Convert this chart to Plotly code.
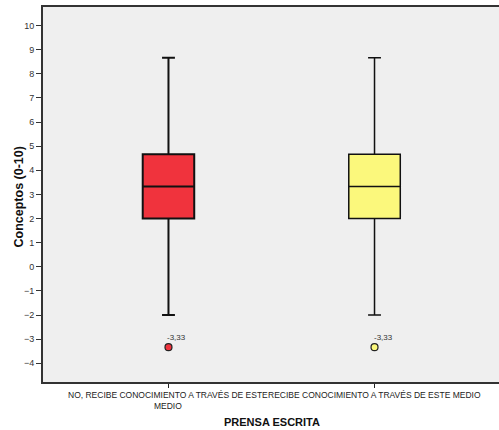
import plotly.graph_objects as go

categories = ["NO, RECIBE CONOCIMIENTO A TRAVÉS DE ESTE<br>MEDIO",
              "RECIBE CONOCIMIENTO A TRAVÉS DE ESTE MEDIO"]
q1 = [2.0, 2.0]
median = [3.33, 3.33]
q3 = [4.67, 4.67]
lower = [-2.0, -2.0]
upper = [8.67, 8.67]
outliers = [-3.33, -3.33]
outlier_labels = ["-3,33", "-3,33"]
colors = ["#F0333D", "#FBF87C"]
line_w = [2, 1.5]

FONT = "Liberation Sans, Arial"

fig = go.Figure()
for i in range(len(categories)):
    fig.add_trace(go.Box(
        x=[i], q1=[q1[i]], median=[median[i]], q3=[q3[i]],
        lowerfence=[lower[i]], upperfence=[upper[i]],
        fillcolor=colors[i], line=dict(color="#111111", width=line_w[i]),
        width=0.25, whiskerwidth=0.25, boxpoints=False, showlegend=False,
    ))
    fig.add_trace(go.Scatter(
        x=[i], y=[outliers[i]], mode="markers",
        marker=dict(size=7, color=colors[i], line=dict(color="#222222", width=1.2)),
        showlegend=False, cliponaxis=False,
    ))
    fig.add_annotation(
        x=i, y=outliers[i], text=outlier_labels[i], showarrow=False,
        xanchor="left", yanchor="bottom", xshift=-3, yshift=3,
        font=dict(size=8, color="#333333", family=FONT),
    )
    fig.add_annotation(
        x=i, y=0, xref="x", yref="paper", text=categories[i], showarrow=False,
        xanchor="center", yanchor="top", yshift=-6,
        font=dict(size=8.5, color="#222222", family=FONT),
    )

fig.add_annotation(
    x=0.5, y=0, xref="paper", yref="paper", text="<b>PRENSA ESCRITA</b>",
    showarrow=False, xanchor="center", yanchor="top", yshift=-32,
    font=dict(size=11, color="#111111", family=FONT),
)
fig.add_annotation(
    x=0, y=0.5, xref="paper", yref="paper", text="<b>Conceptos (0-10)</b>",
    showarrow=False, xanchor="center", yanchor="middle", xshift=-25, yshift=-3, textangle=-90,
    font=dict(size=12.5, color="#111111", family=FONT),
)

fig.update_layout(
    width=502, height=430,
    margin=dict(l=43, r=0, t=7, b=48),
    paper_bgcolor="white", plot_bgcolor="#EFEFEF",
    font=dict(family=FONT, color="#222222"),
    xaxis=dict(
        range=[-0.609, 1.609], tickmode="array", tickvals=[0, 1], showticklabels=False,
        ticks="outside", ticklen=4,
        tickcolor="#222222", showgrid=False, zeroline=False,
        showline=True, linecolor="#333333", linewidth=2, mirror=True,
    ),
    yaxis=dict(
        range=[-4.775, 10.77], tickmode="array", tickvals=list(range(-4, 11)),
        tickfont=dict(size=9, color="#333333"), ticks="outside", ticklen=5,
        tickcolor="#333333", showgrid=False, zeroline=False,
        showline=True, linecolor="#333333", linewidth=2, mirror=True,
    ),
)
fig.write_html("out.html", config={"displayModeBar": False},
               post_script="document.body.style.margin='0';document.body.style.overflow='hidden';")
